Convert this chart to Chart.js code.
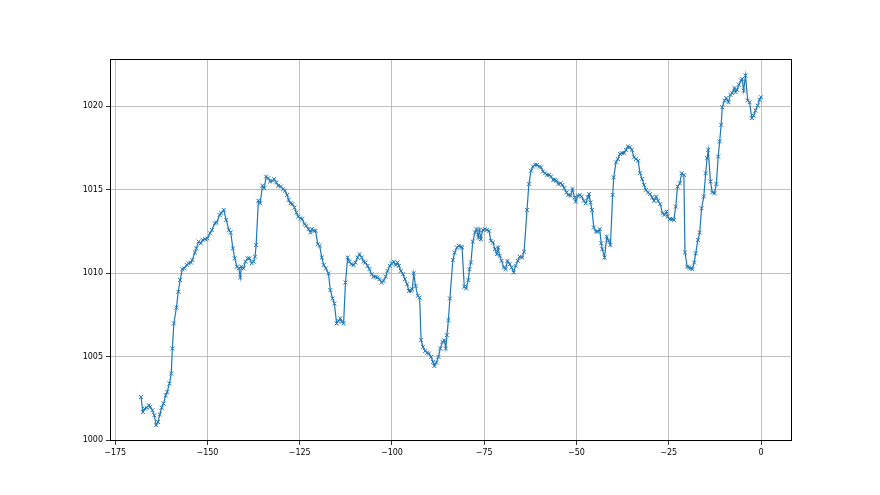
<!DOCTYPE html>
<html>
<head>
<meta charset="utf-8">
<script src="https://cdn.jsdelivr.net/npm/chart.js@4/dist/chart.umd.min.js"></script>
<style>
    body { margin: 0; background: #fff; }
    canvas { display: block; }
</style>
</head>
<body>
<canvas id="chart" width="880" height="495"></canvas>
<script>
// hours relative to now
const hours = [
    -168.0, -167.5, -167.0, -166.5, -165.9, -165.5, -164.9, -164.4, -163.9, -163.4,
    -162.9, -162.4, -161.9, -161.3, -160.9, -160.3, -159.8, -159.5, -159.1, -158.4,
    -157.9, -157.4, -156.8, -156.3, -155.6, -155.1, -154.5, -154.1, -153.4, -153.0,
    -152.4, -151.8, -151.3, -150.6, -150.0, -149.3, -148.8, -148.0, -147.5, -146.7,
    -146.3, -145.6, -144.9, -144.2, -143.7, -143.1, -142.6, -142.0, -141.5, -141.1,
    -140.8, -140.2, -139.7, -139.1, -138.6, -138.0, -137.5, -137.1, -136.8, -136.2,
    -135.7, -135.1, -134.6, -134.1, -133.5, -133.0, -132.4, -131.9, -131.3, -130.8,
    -130.1, -129.5, -129.0, -128.4, -128.0, -127.5, -127.0, -126.4, -125.9, -125.4,
    -124.8, -124.3, -123.7, -123.2, -122.6, -122.1, -121.7, -121.2, -120.7, -120.1,
    -119.6, -119.0, -118.5, -117.9, -117.2, -116.7, -116.1, -115.6, -115.0, -114.5,
    -114.0, -113.6, -113.1, -112.6, -112.0, -111.5, -111.0, -110.4, -109.9, -109.3,
    -108.8, -108.2, -107.7, -107.2, -106.6, -106.1, -105.5, -105.0, -104.4, -103.9,
    -103.4, -102.8, -102.3, -101.7, -101.2, -100.6, -100.1, -99.5, -99.0, -98.5,
    -98.1, -97.6, -97.0, -96.5, -95.9, -95.4, -94.8, -94.5, -94.1, -93.6,
    -93.0, -92.5, -92.1, -91.6, -91.0, -90.5, -90.0, -89.4, -88.9, -88.5,
    -88.0, -87.4, -86.9, -86.3, -85.8, -85.4, -85.1, -84.7, -84.3, -83.5,
    -83.0, -82.4, -81.9, -81.3, -81.0, -80.4, -79.9, -79.3, -79.0, -78.6,
    -78.1, -77.5, -77.1, -76.6, -76.3, -75.9, -75.4, -74.8, -74.3, -73.7,
    -73.2, -72.6, -72.1, -71.6, -71.2, -70.8, -70.3, -69.7, -69.2, -68.7,
    -68.1, -67.6, -67.0, -66.5, -65.9, -65.4, -64.7, -64.2, -63.4, -62.9,
    -62.3, -61.8, -61.2, -60.7, -60.1, -59.6, -59.1, -58.5, -58.0, -57.4,
    -56.9, -56.3, -55.9, -55.4, -54.9, -54.3, -53.8, -53.3, -52.7, -52.2,
    -51.6, -51.1, -50.5, -50.2, -49.6, -49.1, -48.6, -48.0, -47.5, -46.9,
    -46.6, -46.2, -45.8, -45.3, -44.7, -44.2, -43.7, -43.3, -43.0, -42.4,
    -41.8, -41.3, -40.8, -40.2, -39.9, -39.3, -38.8, -38.2, -37.7, -37.1,
    -36.6, -36.1, -35.5, -35.0, -34.4, -33.9, -33.3, -32.8, -32.2, -31.7,
    -31.2, -30.6, -30.1, -29.5, -29.0, -28.4, -27.9, -27.3, -26.7, -26.2,
    -25.6, -25.3, -24.7, -24.2, -23.6, -23.1, -22.6, -22.0, -21.5, -20.9,
    -20.6, -20.0, -19.5, -19.0, -18.6, -18.1, -17.7, -17.1, -16.6, -16.1,
    -15.5, -15.0, -14.6, -14.3, -13.7, -13.2, -12.6, -12.1, -11.6, -11.2,
    -10.8, -10.5, -9.9, -9.4, -8.8, -8.3, -7.8, -7.2, -6.9, -6.5,
    -6.0, -5.4, -5.1, -4.7, -4.2, -3.6, -3.1, -2.5, -2.0, -1.5,
    -0.9, -0.4, 0.0
]

// pressure in hPa
const pressure = [
    1002.6, 1001.7, 1001.9, 1001.95, 1002.1, 1002.0, 1001.8, 1001.5, 1000.9, 1001.1,
    1001.55, 1001.95, 1002.2, 1002.7, 1002.9, 1003.4, 1004.0, 1005.5, 1007.0, 1007.95,
    1008.9, 1009.6, 1010.25, 1010.3, 1010.5, 1010.6, 1010.65, 1010.8, 1011.25, 1011.5,
    1011.9, 1011.8, 1012.0, 1012.05, 1012.1, 1012.4, 1012.6, 1013.0, 1013.05, 1013.5,
    1013.6, 1013.8, 1013.2, 1012.6, 1012.45, 1011.5, 1010.9, 1010.4, 1010.3, 1009.75,
    1010.4, 1010.3, 1010.7, 1010.9, 1010.9, 1010.6, 1010.7, 1011.0, 1011.7, 1014.35,
    1014.2, 1015.25, 1015.1, 1015.8, 1015.7, 1015.5, 1015.55, 1015.65, 1015.45, 1015.25,
    1015.2, 1015.05, 1014.95, 1014.7, 1014.4, 1014.2, 1014.15, 1013.95, 1013.65, 1013.4,
    1013.3, 1013.25, 1012.95, 1012.85, 1012.65, 1012.45, 1012.65, 1012.55, 1012.55, 1011.75,
    1011.65, 1010.95, 1010.5, 1010.3, 1010.0, 1009.0, 1008.5, 1008.2, 1007.0, 1007.15,
    1007.3, 1007.1, 1007.0, 1009.45, 1010.95, 1010.7, 1010.55, 1010.5, 1010.65, 1010.95,
    1011.15, 1010.95, 1010.7, 1010.65, 1010.45, 1010.25, 1009.95, 1009.8, 1009.8, 1009.75,
    1009.65, 1009.45, 1009.55, 1009.8, 1010.15, 1010.45, 1010.6, 1010.7, 1010.5, 1010.65,
    1010.45, 1010.15, 1009.95, 1009.65, 1009.35, 1008.95, 1008.95, 1009.05, 1010.0, 1009.25,
    1008.65, 1008.55, 1006.0, 1005.6, 1005.35, 1005.25, 1005.2, 1005.0, 1004.7, 1004.45,
    1004.65, 1005.0, 1005.5, 1005.9, 1006.0, 1005.5, 1006.3, 1007.2, 1008.5, 1010.8,
    1011.25, 1011.55, 1011.65, 1011.6, 1011.55, 1009.2, 1009.1, 1009.6, 1010.25, 1010.65,
    1011.9, 1012.45, 1012.65, 1012.15, 1012.6, 1012.05, 1012.6, 1012.65, 1012.6, 1012.55,
    1011.95, 1011.85, 1011.45, 1011.15, 1011.55, 1011.05, 1010.75, 1010.35, 1010.25, 1010.75,
    1010.55, 1010.35, 1010.05, 1010.45, 1010.75, 1011.0, 1010.95, 1011.3, 1013.8, 1015.35,
    1016.15, 1016.4, 1016.5, 1016.5, 1016.4, 1016.35, 1016.1, 1016.0, 1015.9, 1015.9,
    1015.8, 1015.6, 1015.6, 1015.55, 1015.35, 1015.4, 1015.3, 1015.1, 1014.85, 1014.7,
    1014.65, 1015.05, 1014.55, 1014.3, 1014.65, 1014.7, 1014.6, 1014.35, 1014.2, 1014.55,
    1014.75, 1014.25, 1013.8, 1012.75, 1012.5, 1012.5, 1012.65, 1011.8, 1011.45, 1010.95,
    1012.2, 1011.95, 1011.7, 1014.7, 1015.75, 1016.65, 1016.85, 1017.15, 1017.2, 1017.2,
    1017.4, 1017.6, 1017.55, 1017.4, 1016.95, 1016.85, 1016.75, 1016.0, 1015.65, 1015.3,
    1015.0, 1014.85, 1014.75, 1014.55, 1014.35, 1014.6, 1014.35, 1014.15, 1013.6, 1013.5,
    1013.7, 1013.4, 1013.25, 1013.25, 1013.2, 1014.0, 1015.2, 1015.4, 1016.0, 1015.9,
    1011.25, 1010.4, 1010.35, 1010.3, 1010.25, 1010.65, 1011.2, 1012.0, 1012.45, 1013.9,
    1014.6, 1016.0, 1016.9, 1017.4, 1015.5, 1014.85, 1014.8, 1015.35, 1017.0, 1017.9,
    1018.9, 1019.95, 1020.35, 1020.5, 1020.25, 1020.7, 1020.8, 1021.1, 1020.85, 1021.0,
    1021.3, 1021.55, 1021.65, 1020.95, 1021.85, 1020.35, 1020.25, 1019.3, 1019.45, 1019.75,
    1020.05, 1020.4, 1020.55
]

const xTicks = [-175, -150, -125, -100, -75, -50, -25, 0]
const yTicks = [1000, 1005, 1010, 1015, 1020]

let points = hours.map((h, i) => ({ x: h, y: pressure[i] }))

function minus(v) {
    return v < 0 ? "\u2212" + Math.abs(v) : String(v)
}

// matplotlib style box around the plot area
const frame = {
    id: "frame",
    afterDraw(chart) {
        let a = chart.chartArea
        let ctx = chart.ctx
        ctx.save()
        ctx.strokeStyle = "#000"
        ctx.lineWidth = 1
        ctx.strokeRect(Math.round(a.left) + 0.5, Math.round(a.top) + 0.5,
            Math.round(a.right - a.left) - 1, Math.round(a.bottom - a.top) - 1)
        ctx.restore()
    }
}

let config = {
    type: "scatter",
    data: {
        datasets: [
            {
                data: points,
                showLine: true,
                borderColor: "#1f77b4",
                borderWidth: 1.2,
                backgroundColor: "#1f77b4",
                pointStyle: "crossRot",
                pointRadius: 2.8,
                pointBorderWidth: 1,
                pointBorderColor: "#1f77b4",
                tension: 0
            }
        ]
    },
    options: {
        responsive: false,
        animation: false,
        layout: { padding: { top: 59, right: 88, left: 0, bottom: 0 } },
        plugins: {
            legend: { display: false },
            tooltip: { enabled: false }
        },
        scales: {
            x: {
                type: "linear",
                min: -176.4,
                max: 8.4,
                afterBuildTicks: s => { s.ticks = xTicks.map(v => ({ value: v })) },
                afterFit: s => { s.height = 54 },
                grid: { color: "#b0b0b0", lineWidth: 0.8, tickColor: "#000", tickLength: 4 },
                border: { display: false },
                ticks: {
                    color: "#000",
                    padding: 3,
                    maxRotation: 0,
                    font: { family: "DejaVu Sans", size: 8 },
                    callback: v => minus(v)
                }
            },
            y: {
                min: 999.96,
                max: 1022.84,
                afterBuildTicks: s => { s.ticks = yTicks.map(v => ({ value: v })) },
                afterFit: s => { s.width = 110 },
                grid: { color: "#b0b0b0", lineWidth: 0.8, tickColor: "#000", tickLength: 4 },
                border: { display: false },
                ticks: {
                    color: "#000",
                    padding: 3,
                    font: { family: "DejaVu Sans", size: 8 },
                    callback: v => String(v)
                }
            }
        }
    },
    plugins: [frame]
}

let chart = new Chart(document.getElementById("chart"), config)
</script>
</body>
</html>
